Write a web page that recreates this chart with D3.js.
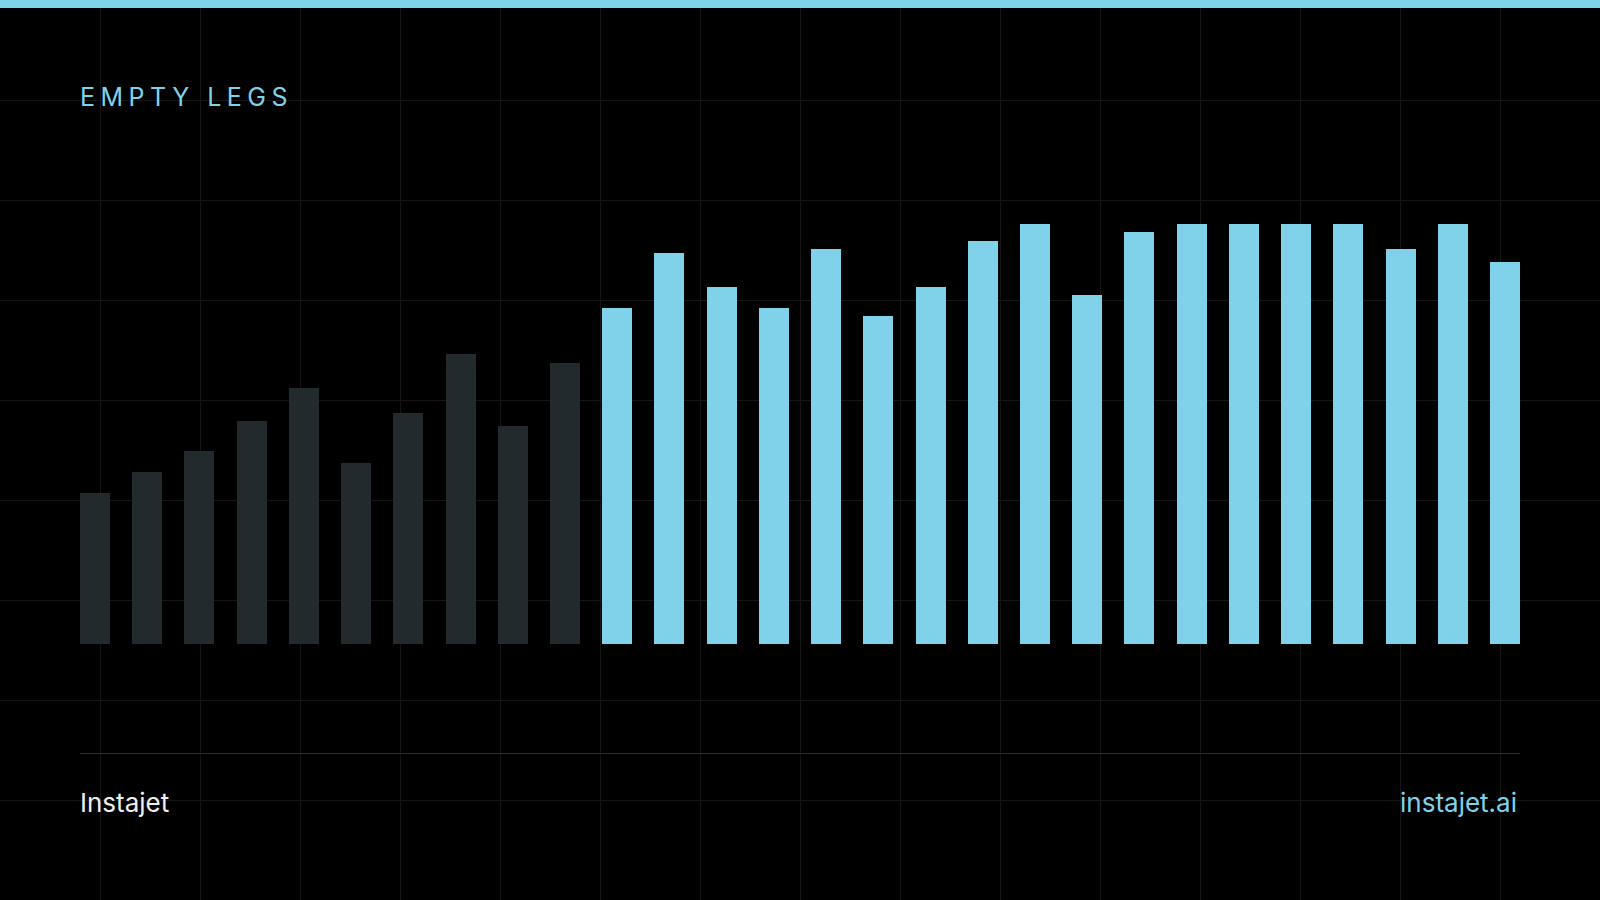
<!DOCTYPE html>
<html>
<head>
<meta charset="utf-8">
<script src="https://cdn.jsdelivr.net/npm/d3@7"></script>
<style>
  html, body { margin: 0; padding: 0; background: #000; }
  svg { display: block; }
</style>
</head>
<body>
<div id="chart"></div>
<script>
// values (0-100 index)
const pastValues = [36, 41, 46, 53, 61, 43, 55, 69, 52, 67];
const recentValues = [80, 93, 85, 80, 94, 78, 85, 96, 100, 83, 98, 100, 100, 100, 100, 94, 100, 91];
const title = "EMPTY LEGS";
const brand = "Instajet";
const site = "instajet.ai";

const width = 1600;
const height = 900;
const margin = {top: 224, right: 80, bottom: 256, left: 80};
const blue = "#80d2ea";
const dark = "#232a2d";

const data = pastValues.map(v => ({value: v, past: true}))
  .concat(recentValues.map(v => ({value: v, past: false})));
data.forEach((d, i) => d.slot = i);

const svg = d3.select("#chart").append("svg")
  .attr("width", width)
  .attr("height", height);

svg.append("rect")
  .attr("width", width)
  .attr("height", height)
  .attr("fill", "#000");

// background grid, 100px
const grid = svg.append("g")
  .attr("stroke", "#151515")
  .attr("shape-rendering", "crispEdges");
grid.selectAll("line.v")
  .data(d3.range(100, width, 100))
  .join("line")
    .attr("class", "v")
    .attr("x1", d => d).attr("x2", d => d)
    .attr("y1", 0).attr("y2", height);
grid.selectAll("line.h")
  .data(d3.range(100, height, 100))
  .join("line")
    .attr("class", "h")
    .attr("x1", 0).attr("x2", width)
    .attr("y1", d => d).attr("y2", d => d);

// top band
svg.append("rect")
  .attr("width", width)
  .attr("height", 8)
  .attr("fill", blue);

svg.append("text")
  .attr("x", 80)
  .attr("y", 106)
  .attr("font-family", "Inter, sans-serif")
  .attr("font-size", 25)
  .attr("letter-spacing", "0.22em")
  .attr("fill", blue)
  .text(title);

const x = d3.scaleBand()
  .domain(data.map(d => d.slot))
  .range([margin.left, width - margin.right])
  .paddingInner(0.4255)
  .paddingOuter(0);

const y = d3.scaleLinear()
  .domain([0, 100])
  .range([height - margin.bottom, margin.top]);

svg.append("g")
  .attr("shape-rendering", "crispEdges")
  .selectAll("rect")
  .data(data)
  .join("rect")
    .attr("x", d => x(d.slot))
    .attr("y", d => y(d.value))
    .attr("width", x.bandwidth())
    .attr("height", d => y(0) - y(d.value))
    .attr("fill", d => d.past ? dark : blue);

// footer
svg.append("line")
  .attr("x1", 80).attr("x2", width - 80)
  .attr("y1", 753.5).attr("y2", 753.5)
  .attr("stroke", "#2e2e2e");

svg.append("text")
  .attr("x", 80)
  .attr("y", 812)
  .attr("font-family", "Inter, sans-serif")
  .attr("font-size", 26)
  .attr("fill", "#eeeeee")
  .text(brand);

svg.append("text")
  .attr("x", width - 83)
  .attr("y", 812)
  .attr("text-anchor", "end")
  .attr("font-family", "Inter, sans-serif")
  .attr("font-size", 26)
  .attr("fill", blue)
  .text(site);
</script>
</body>
</html>
